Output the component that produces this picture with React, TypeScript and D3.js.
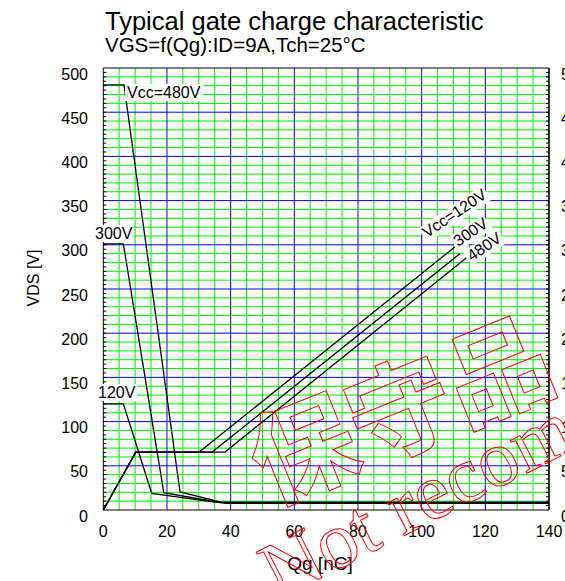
import * as d3 from 'd3';

// axis ticks
const qgTicks = [0, 20, 40, 60, 80, 100, 120, 140];
const vdsTicks = [0, 50, 100, 150, 200, 250, 300, 350, 400, 450, 500];
const vgsTicks = [0, 5, 10, 15, 20, 25, 30, 35, 40, 45, 50];

// VDS curves [Qg nC, VDS V]
const vds120: [number, number][] = [[0, 120], [6.3, 120], [15.2, 18.9], [35, 9.0], [140, 9.0]];
const vds300: [number, number][] = [[0, 301], [6.3, 301], [19.0, 19.6], [37, 8.2], [140, 8.2]];
const vds480: [number, number][] = [[0, 481], [6.5, 481], [24.1, 20.4], [38.5, 7.4], [140, 7.4]];

// VGS curves [Qg nC, VGS V] (right axis)
const vgs120: [number, number][] = [[0, 0], [10.2, 6.55], [30.1, 6.55], [110.4, 29.75]];
const vgs300: [number, number][] = [[0, 0], [10.2, 6.55], [34.2, 6.55], [112.0, 29.0]];
const vgs480: [number, number][] = [[0, 0], [10.2, 6.55], [38.2, 6.55], [114.0, 28.5]];

const W = 565;
const H = 581;
const FONT = '"Liberation Sans", Arial, sans-serif';
const GREEN = '#00ee00';
const BLUE = '#0000ff';

export default function App() {
  const x = d3.scaleLinear().domain([0, 140]).range([103.3, 549]);
  const y = d3.scaleLinear().domain([0, 500]).range([510, 68]);
  const yR = d3.scaleLinear().domain([0, 50]).range([510, 68]);

  const lineL = d3.line<[number, number]>().x((d) => x(d[0])).y((d) => y(d[1]));
  const lineR = d3.line<[number, number]>().x((d) => x(d[0])).y((d) => yR(d[1]));

  const vMinor = d3.range(5, 140, 5).filter((v) => v % 20 !== 0);
  const vMajor = d3.range(20, 140, 20);
  const hMinor = d3.range(10, 500, 10).filter((v) => v % 50 !== 0);
  const hMajor = d3.range(50, 500, 50);
  const sideTicks = d3.range(5, 500, 5);

  const [x0, x1] = x.range();
  const [y0, y1] = y.range();

  const rotLabel = (tx: number, ty: number, text: string, w: number) => (
    <g transform={`translate(${tx},${ty}) rotate(-34)`}>
      <rect x={-2} y={-13} width={w + 4} height={17} fill="#fff" />
      <text fontSize={16} fontFamily={FONT} fill="#000">{text}</text>
    </g>
  );

  return (
    <svg width={W} height={H} style={{ position: 'absolute', left: 0, top: 0, background: '#fff' }}>
      <rect width={W} height={H} fill="#fff" />
      <text x={105} y={30} fontSize={25.5} fontFamily={FONT} fill="#000">Typical gate charge characteristic</text>
      <text x={105} y={52.3} fontSize={20.5} fontFamily={FONT} fill="#000">VGS=f(Qg):ID=9A,Tch=25°C</text>

      {/* grid */}
      {vMinor.map((v) => (
        <line key={`vm${v}`} x1={x(v)} x2={x(v)} y1={y0} y2={y1} stroke={GREEN} strokeWidth={1} />
      ))}
      {hMinor.map((v) => (
        <line key={`hm${v}`} x1={x0} x2={x1} y1={y(v)} y2={y(v)} stroke={GREEN} strokeWidth={1} />
      ))}
      {vMajor.map((v) => (
        <line key={`vM${v}`} x1={x(v)} x2={x(v)} y1={y0} y2={y1} stroke={BLUE} strokeWidth={1} />
      ))}
      {hMajor.map((v) => (
        <line key={`hM${v}`} x1={x0} x2={x1} y1={y(v)} y2={y(v)} stroke={BLUE} strokeWidth={1} />
      ))}

      {/* frame */}
      <line x1={x0} x2={x1} y1={y1} y2={y1} stroke="#000" />
      <line x1={x0} x2={x1} y1={y0} y2={y0} stroke="#000" />
      <line x1={x0} x2={x0} y1={y0} y2={y1} stroke="#000" />
      <line x1={x1} x2={x1} y1={y0} y2={y1} stroke="#333" strokeWidth={2} />
      {sideTicks.map((v) => (
        <g key={`st${v}`}>
          <line x1={x0} x2={x0 + 3} y1={y(v)} y2={y(v)} stroke="#000" />
          <line x1={x1 - 3} x2={x1} y1={y(v)} y2={y(v)} stroke="#000" />
        </g>
      ))}

      {/* tick labels */}
      {vdsTicks.map((v) => (
        <text key={`yl${v}`} x={88} y={y(v) + 11.5} textAnchor="end" fontSize={16} fontFamily={FONT} fill="#000">{v}</text>
      ))}
      {vgsTicks.map((v) => (
        <text key={`yr${v}`} x={561} y={yR(v) + 11.5} fontSize={16} fontFamily={FONT} fill="#000">{v}</text>
      ))}
      {qgTicks.map((v) => (
        <text key={`xl${v}`} x={x(v)} y={537} textAnchor="middle" fontSize={16} fontFamily={FONT} fill="#000">{v}</text>
      ))}
      <text x={320} y={570} textAnchor="middle" fontSize={19} fontFamily={FONT} fill="#000">Qg [nC]</text>
      <text transform="translate(38.5,278) rotate(-90)" textAnchor="middle" fontSize={16} fontFamily={FONT} fill="#000">VDS [V]</text>

      {/* curves */}
      {[vds120, vds300, vds480].map((d, i) => (
        <path key={`vds${i}`} d={lineL(d) ?? undefined} fill="none" stroke="#000" strokeWidth={1.3} />
      ))}
      {[vgs120, vgs300, vgs480].map((d, i) => (
        <path key={`vgs${i}`} d={lineR(d) ?? undefined} fill="none" stroke="#000" strokeWidth={1.3} />
      ))}

      {/* curve labels */}
      <rect x={125} y={84} width={78} height={17} fill="#fff" />
      <text x={127} y={97.7} fontSize={16} fontFamily={FONT} fill="#000">Vcc=480V</text>
      <rect x={93} y={225} width={41} height={17} fill="#fff" />
      <text x={95} y={239.3} fontSize={16} fontFamily={FONT} fill="#000">300V</text>
      <rect x={96} y={384} width={41} height={17} fill="#fff" />
      <text x={98} y={398.3} fontSize={16} fontFamily={FONT} fill="#000">120V</text>
      {rotLabel(427, 238.3, 'Vcc=120V', 73)}
      {rotLabel(458, 247, '300V', 37)}
      {rotLabel(471.7, 261.7, '480V', 37)}

      {/* watermark */}
      <text
        transform="translate(415,446) rotate(-22)"
        textAnchor="middle"
        fontSize={105}
        fontWeight={700}
        fontFamily='"Noto Sans CJK JP", sans-serif'
        fill="none"
        stroke="#ff0000"
        strokeWidth={1}
      >
        保守品
      </text>
      <text
        transform="translate(278,600) rotate(-27)"
        fontSize={80}
        fontFamily='"Liberation Serif", "DejaVu Serif", serif'
        fill="none"
        stroke="#ff0000"
        strokeWidth={1}
      >
        Not recommended
      </text>
    </svg>
  );
}
